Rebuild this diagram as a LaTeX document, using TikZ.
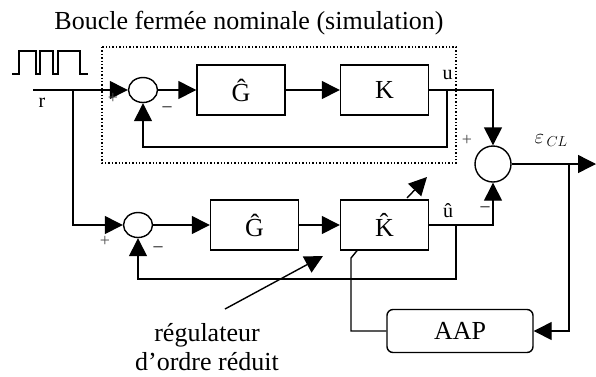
\documentclass[tikz,border=0pt]{standalone}
\usepackage{fontspec}
\setmainfont{Liberation Serif}
\usetikzlibrary{arrows.meta,positioning,shapes.geometric}

\begin{document}
\begin{tikzpicture}[x=1pt, y=-1pt, line width=1.4pt,
    block/.style={draw, minimum width=88pt, minimum height=50pt, inner sep=0pt, font=\fontsize{26}{29}\selectfont}, % Transfer blocks
    summer/.style={draw, ellipse, minimum width=29pt, minimum height=25pt, inner sep=0pt}, % Summing junctions
    sig/.style={-{Triangle[length=18pt,width=18pt]}}, % Signal arrows
    sign/.style={font=\fontsize{18}{18}\selectfont, inner sep=0pt},
    lab/.style={font=\fontsize{20}{20}\selectfont, inner sep=0pt}
]
\useasboundingbox (0,0) rectangle (596,376);

% Title
\node[font=\fontsize{26}{29}\selectfont, anchor=base] (title) at (249,29) {Boucle fermée nominale (simulation)};

% Square-wave input
\draw (12,74) -- (19,74) -- (19,51) -- (36,51) -- (36,74) -- (40,74) -- (40,51) -- (53,51)
    -- (53,74) -- (58,74) -- (58,51) -- (80,51) -- (80,74) -- (88,74);

% Dotted frame round the nominal loop
\draw[dotted] (102,47) rectangle (456,163);

% Blocks and summing junctions
\node[summer] (sum1) at (143,90) {};
\node[block] (ghat1) at (241,90) {\^{G}};
\node[block] (kbox) at (384.5,90) {K};
\node[summer] (sum2) at (138,225) {};
\node[block] (ghat2) at (254.5,225) {\^{G}};
\node[block] (khat) at (384.5,225) {\^{K}};
\node[draw, circle, minimum size=36pt, inner sep=0pt] (sum3) at (493,164) {};
\node[block, rounded corners=6pt, minimum width=146pt, minimum height=43pt] (aap) at (460,331) {AAP};

% Branch and bend points
\coordinate (rstart) at (33,90);
\coordinate (split) at (73,90);
\coordinate (ubranch) at (447,90);
\coordinate (lbranch) at (456,225);
\coordinate (ebranch) at (569,164);
\coordinate (eout) at (596,164);
\coordinate (adjlow) at (351,258);
\coordinate (adjin) at (358,249.5);
\coordinate (adjout) at (407,198);
\coordinate (adjtip) at (427,177);
\coordinate (ptr) at (225,309);
\coordinate (ptrtip) at (323,256);

% Upper loop
\draw[sig] (rstart) -- (sum1.west);
\draw[sig] (sum1.east) -- (ghat1.west);
\draw[sig] (ghat1.east) -- (kbox.west);
\draw[sig] (kbox.east) -| (sum3.north);
\draw[sig] (ubranch) -- ++(0,57) -| (sum1.south);

% Lower loop
\draw[sig] (split) |- (sum2.west);
\draw[sig] (sum2.east) -- (ghat2.west);
\draw[sig] (ghat2.east) -- (khat.west);
\draw[sig] (khat.east) -| (sum3.south);
\draw[sig] (lbranch) -- ++(0,54) -| (sum2.south);

% Error output and adaptation
\draw[sig] (sum3.east) -- (eout);
\draw[sig] (ebranch) |- (aap.east);
\draw (aap.west) -| (adjlow) -- (adjin);
\draw[sig] (adjout) -- (adjtip);

% Pointer to the reduced-order controller
\draw[sig] (ptr) -- (ptrtip);

% Labels and signs
\node[lab] (rlab) at (42,103) {r};
\node[lab] (ulab) at (447.5,75) {u};
\node[lab, anchor=base] (uhatlab) at (448,217) {û};
\node[lab, anchor=base west] (elab) at (534,143) {$\varepsilon_{\,CL}$};
\node[sign, text=black!70] (p1) at (113,98) {+};
\node[sign] (m1) at (167,109) {--};
\node[sign, text=black!70] (p2) at (105,241) {+};
\node[sign] (m2) at (158,249) {--};
\node[sign, text=black!70] (p3) at (467,140) {+};
\node[sign] (m3) at (485,209) {--};
\node[font=\fontsize{26}{29}\selectfont, align=center] (note) at (207,347.5) {régulateur\\d’ordre réduit};

\end{tikzpicture}
\end{document}
